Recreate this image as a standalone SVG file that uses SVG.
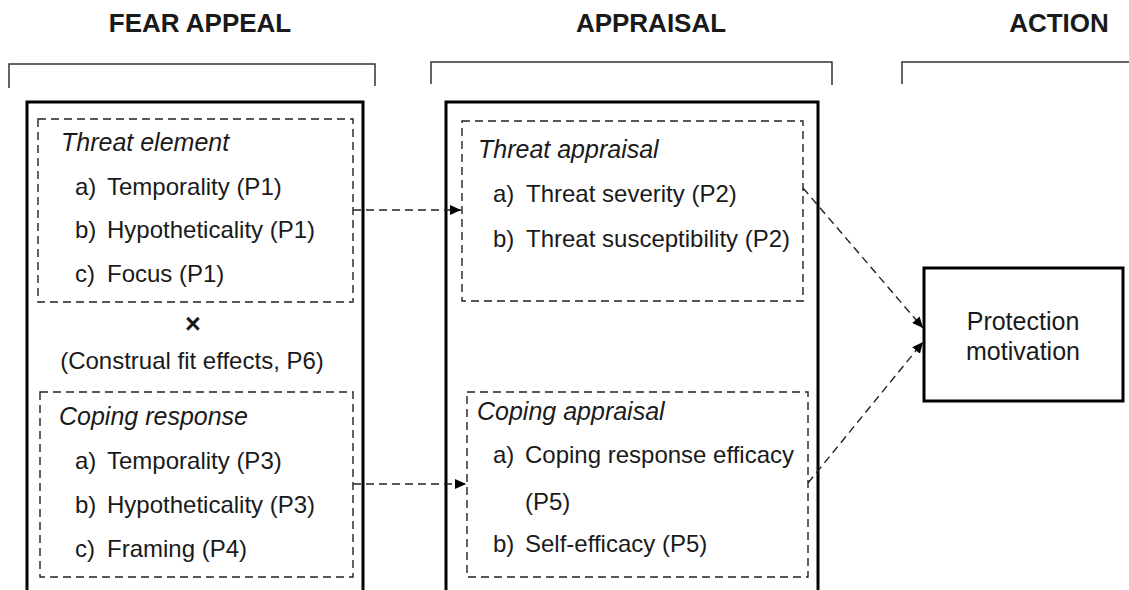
<svg xmlns="http://www.w3.org/2000/svg" width="1129" height="590" viewBox="0 0 1129 590">
<defs>
<marker id="arr" markerUnits="userSpaceOnUse" markerWidth="11" markerHeight="10" refX="11" refY="5" orient="auto">
<path d="M0,0 L11,5 L0,10 z" fill="#000"/>
</marker>
<style>
text{font-family:"Liberation Sans",Arial,sans-serif;fill:#1a1a1a;}
.hdr{font-size:26px;font-weight:bold;text-anchor:middle;}
.ttl{font-size:25px;font-style:italic;}
.itm{font-size:24px;}
.ctr{text-anchor:middle;}
.outer{fill:none;stroke:#000;stroke-width:3;}
.dash{fill:none;stroke:#222;stroke-width:1.4;stroke-dasharray:8 5;}
.brk{fill:none;stroke:#333;stroke-width:1.5;}
.conn{fill:none;stroke:#222;stroke-width:1.4;stroke-dasharray:8 5;}
</style>
</defs>
<rect width="1129" height="590" fill="#fff"/>

<g id="headers">
<text class="hdr" x="200" y="32">FEAR APPEAL</text>
<text class="hdr" x="651" y="32">APPRAISAL</text>
<text class="hdr" x="1059" y="32">ACTION</text>
<path class="brk" d="M9,88 V64 H375 V86"/>
<path class="brk" d="M431,84 V62 H832 V85"/>
<path class="brk" d="M902,84 V62 H1129"/>
</g>

<g id="fear-appeal">
<rect class="outer" x="27" y="102" width="336" height="500"/>
<g id="threat-element">
<rect class="dash" x="38" y="119" width="315" height="183"/>
<text class="ttl" x="61" y="151">Threat element</text>
<text class="itm" x="75" y="195">a)</text><text class="itm" x="107" y="195">Temporality (P1)</text>
<text class="itm" x="75" y="238">b)</text><text class="itm" x="107" y="238">Hypotheticality (P1)</text>
<text class="itm" x="75" y="282">c)</text><text class="itm" x="107" y="282">Focus (P1)</text>
</g>
<g id="construal-fit">
<text class="itm ctr" x="193" y="333" style="font-size:27px;font-weight:bold">×</text>
<text class="itm ctr" x="192" y="369">(Construal fit effects, P6)</text>
</g>
<g id="coping-response">
<rect class="dash" x="40" y="392" width="313" height="185"/>
<text class="ttl" x="59" y="425">Coping response</text>
<text class="itm" x="75" y="469">a)</text><text class="itm" x="107" y="469">Temporality (P3)</text>
<text class="itm" x="75" y="513">b)</text><text class="itm" x="107" y="513">Hypotheticality (P3)</text>
<text class="itm" x="75" y="557">c)</text><text class="itm" x="107" y="557">Framing (P4)</text>
</g>
</g>

<g id="appraisal">
<rect class="outer" x="446" y="102" width="372" height="500"/>
<g id="threat-appraisal">
<rect class="dash" x="462" y="121" width="341" height="180"/>
<text class="ttl" x="478" y="158">Threat appraisal</text>
<text class="itm" x="493" y="202">a)</text><text class="itm" x="526" y="202">Threat severity (P2)</text>
<text class="itm" x="493" y="247">b)</text><text class="itm" x="526" y="247">Threat susceptibility (P2)</text>
</g>
<g id="coping-appraisal">
<rect class="dash" x="467" y="392" width="341" height="185"/>
<text class="ttl" x="477" y="420">Coping appraisal</text>
<text class="itm" x="493" y="463">a)</text><text class="itm" x="525" y="463">Coping response efficacy</text>
<text class="itm" x="525" y="510">(P5)</text>
<text class="itm" x="493" y="552">b)</text><text class="itm" x="525" y="552">Self-efficacy (P5)</text>
</g>
</g>

<g id="protection-motivation">
<rect class="outer" x="924" y="268" width="199" height="133"/>
<text class="itm ctr" x="1023" y="330" style="font-size:25px">Protection</text>
<text class="itm ctr" x="1023" y="360" style="font-size:25px">motivation</text>
</g>

<g id="connectors">
<path class="conn" d="M353,210 H461" marker-end="url(#arr)"/>
<path class="conn" d="M353,484 H466" marker-end="url(#arr)"/>
<path class="conn" d="M803,188 L923,328" marker-end="url(#arr)"/>
<path class="conn" d="M808,483 L923,342" marker-end="url(#arr)"/>
</g>
</svg>
